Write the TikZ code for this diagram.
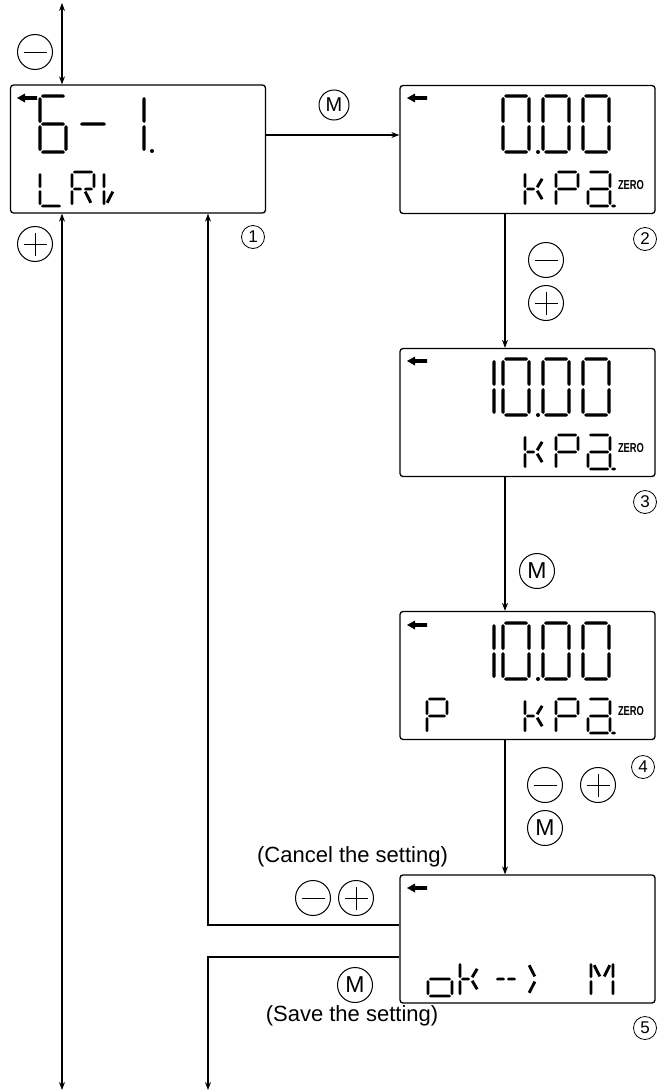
\documentclass[tikz,border=0pt]{standalone}
\usepackage{fontspec}
\setmainfont{Liberation Sans}
\usetikzlibrary{arrows.meta}
\def\lcdT{1.4}\def\lcdG{1}\def\lcdW{26}\def\lcdH{56}
\newcommand\lcdh[3]{\fill ({#1},{#3}) -- ({#1+\lcdT},{#3-\lcdT}) -- ({#2-\lcdT},{#3-\lcdT}) -- ({#2},{#3}) -- ({#2-\lcdT},{#3+\lcdT}) -- ({#1+\lcdT},{#3+\lcdT}) -- cycle;}
\newcommand\lcdv[3]{\fill ({#1},{#2}) -- ({#1+\lcdT},{#2+\lcdT}) -- ({#1+\lcdT},{#3-\lcdT}) -- ({#1},{#3}) -- ({#1-\lcdT},{#3-\lcdT}) -- ({#1-\lcdT},{#2+\lcdT}) -- cycle;}
\newcommand\lcdd[4]{\draw[line width={2*\lcdT*1pt}] ({#1},{#2}) -- ({#3},{#4});}
\def\lcdsega{\lcdh{\lcdG}{\lcdW-\lcdG}{0}}
\def\lcdsegb{\lcdv{\lcdW}{\lcdG}{\lcdH/2-\lcdG}}
\def\lcdsegc{\lcdv{\lcdW}{\lcdH/2+\lcdG}{\lcdH-\lcdG}}
\def\lcdsegd{\lcdh{\lcdG}{\lcdW-\lcdG}{\lcdH}}
\def\lcdsege{\lcdv{0}{\lcdH/2+\lcdG}{\lcdH-\lcdG}}
\def\lcdsegf{\lcdv{0}{\lcdG}{\lcdH/2-\lcdG}}
\def\lcdsegg{\lcdh{\lcdG}{\lcdW-\lcdG}{\lcdH/2}}
\def\lcdsegp{\lcdh{\lcdG}{\lcdW/2-\lcdG}{\lcdH/2}}
\def\lcdsegq{\lcdh{\lcdW/2+\lcdG}{\lcdW-\lcdG}{\lcdH/2}}
\def\lcdsegh{\lcdd{2.2*\lcdT}{2.2*\lcdT}{\lcdW/2-1.5*\lcdT}{\lcdH/2-1.8*\lcdT}}
\def\lcdsegj{\lcdd{\lcdW-2.2*\lcdT}{2.2*\lcdT}{\lcdW/2+1.5*\lcdT}{\lcdH/2-1.8*\lcdT}}
\def\lcdsegk{\lcdd{2.2*\lcdT}{\lcdH-2.2*\lcdT}{\lcdW/2-1.5*\lcdT}{\lcdH/2+1.8*\lcdT}}
\def\lcdsegm{\lcdd{\lcdW-2.2*\lcdT}{\lcdH-2.2*\lcdT}{\lcdW/2+1.5*\lcdT}{\lcdH/2+1.8*\lcdT}}
\def\lcdsegx{\lcdd{\lcdW/2+0.8*\lcdT}{\lcdH/2-1.2*\lcdT}{0.78*\lcdW}{0.2*\lcdH}}
\def\lcdsegy{\lcdd{\lcdW/2+0.8*\lcdT}{\lcdH/2+1.2*\lcdT}{0.78*\lcdW}{0.8*\lcdH}}
\def\lcdsegt{\lcdh{\lcdW+\lcdG}{\lcdW+6}{\lcdH}}
\newcommand\lcdchar[6][1.65]{\begin{scope}[shift={(#2,#3)}]\def\lcdT{#1}\def\lcdW{#4}\def\lcdH{#5}\foreach \s in {#6}{\csname lcdseg\s\endcsname}\end{scope}}
\newcommand\lcdarrow[2]{\fill ({#1+7},{#2+13}) -- ({#1+15},{#2+8.5}) -- ({#1+15},{#2+11.2}) -- ({#1+27},{#2+11.2}) -- ({#1+27},{#2+14.8}) -- ({#1+15},{#2+14.8}) -- ({#1+15},{#2+17.5}) -- cycle;}
\newcommand\bigzero[2]{\lcdchar{#1}{#2}{26}{56}{a,b,c,d,e,f}}
\newcommand\kpa[1]{%
  \lcdchar[1.45]{525}{#1}{22}{34}{f,e,p,x,y}%
  \lcdchar[1.45]{556}{#1}{22}{34}{a,b,f,e,g}%
  \lcdchar[1.45]{588}{#1}{22}{34}{a,b,g,e,d,c,t}}
\newcommand\minusbtn[3]{\node[btn] (#1) at (#2,#3) {};
  \draw[btnline] ([xshift=-11.5pt]#1.center) -- ([xshift=11.5pt]#1.center);}
\newcommand\plusbtn[3]{\node[btn] (#1) at (#2,#3) {};
  \draw[btnline] ([xshift=-11.5pt]#1.center) -- ([xshift=11.5pt]#1.center);
  \draw[btnline] ([yshift=-11.5pt]#1.center) -- ([yshift=11.5pt]#1.center);}
\begin{document}
\begin{tikzpicture}[x=1pt,y=-1pt,
  lcdbox/.style={draw, line width=1.3pt, rounded corners=3pt, minimum width=255pt, minimum height=128pt, inner sep=0pt},
  conn/.style={line width=1.1pt},
  arr/.style={conn, -{Stealth[length=8pt,width=6pt]}},
  darr/.style={conn, {Stealth[length=8pt,width=6pt]}-{Stealth[length=8pt,width=6pt]}},
  btn/.style={circle, draw, line width=1pt, minimum size=35pt, inner sep=0pt},
  btnline/.style={line width=1pt},
  mbtn/.style={btn, font=\fontsize{23}{23}\selectfont},
  num/.style={circle, draw, line width=0.8pt, minimum size=23pt, inner sep=0pt, font=\fontsize{17}{17}\selectfont},
  zero/.style={font=\bfseries\fontsize{13}{13}\selectfont, xscale=0.72, inner sep=0pt},
  note/.style={font=\fontsize{22}{22}\selectfont, inner sep=0pt}]
\useasboundingbox (0,0) rectangle (659,1092);
% displays
\node[lcdbox] (d1) at (138,149) {};
\node[lcdbox] (d2) at (527.5,149.5) {};
\node[lcdbox] (d3) at (527.5,412.5) {};
\node[lcdbox] (d4) at (527.5,675.5) {};
\node[lcdbox] (d5) at (527.5,939) {};
% display 1
\lcdarrow{10}{85}
\lcdchar{40}{96}{26}{56}{a,f,g,e,d,c}
\lcdchar{79}{96}{28}{56}{g}
\lcdchar{118}{96}{26}{56}{b,c}
\fill (152,151) circle (2);
\lcdchar[1.45]{40}{172}{22}{34}{f,e,d}
\lcdchar[1.45]{72}{172}{22}{34}{a,b,f,e,p,q,m}
\lcdchar[1.45]{104}{172}{22}{34}{f,e,k}
% display 2
\lcdarrow{400}{85}
\bigzero{503}{96}\bigzero{543}{96}\bigzero{583}{96}
\fill (538,152) circle (2);
\kpa{172}
\node[zero] (z2) at (631,185) {ZERO};
% display 3
\lcdarrow{400}{348}
\lcdchar{468}{359}{26}{56}{b,c}
\bigzero{503}{359}\bigzero{543}{359}\bigzero{583}{359}
\fill (538,415) circle (2);
\kpa{435}
\node[zero] (z3) at (631,448) {ZERO};
% display 4
\lcdarrow{400}{612}
\lcdchar{468}{623}{26}{56}{b,c}
\bigzero{503}{623}\bigzero{543}{623}\bigzero{583}{623}
\fill (538,679) circle (2);
\lcdchar[1.45]{427}{699}{20}{34}{a,b,f,e,g}
\kpa{699}
\node[zero] (z4) at (631,711) {ZERO};
% display 5
\lcdarrow{400}{875}
\lcdchar[1.45]{428}{962}{24}{34}{g,c,d,e}
\lcdchar[1.45]{460}{962}{22}{34}{f,e,p,x,y}
\lcdchar[1.45]{495}{962}{22}{34}{p,q}
\lcdchar[1.45]{526}{962}{22}{34}{h,k}
\lcdchar[1.45]{591}{962}{22}{34}{f,e,b,c,h,j}
% helper coordinates
\coordinate (topend) at (62,3);
\coordinate (botL) at (62,1090);
\coordinate (botS) at (208,1090);
\coordinate (yM) at (0,135);
\coordinate (x505) at (505,0);
\coordinate (yC) at (0,925);
\coordinate (yS) at (0,957);
\coordinate (xC) at (208,0);
% connectors
\draw[darr] (topend) -- (topend |- d1.north);
\draw[darr] (d1.south -| topend) -- (botL);
\draw[arr] (d1.east |- yM) -- (d2.west |- yM);
\draw[arr] (d2.south -| x505) -- (d3.north -| x505);
\draw[arr] (d3.south -| x505) -- (d4.north -| x505);
\draw[arr] (d4.south -| x505) -- (d5.north -| x505);
\draw[arr] (d5.west |- yC) -| (d1.south -| xC);
\draw[arr] (d5.west |- yS) -| (botS);
% buttons
\minusbtn{bA}{35}{52}
\plusbtn{bB}{35}{244}
\node[mbtn, minimum size=30pt, font=\fontsize{20}{20}\selectfont] (bM1) at (334,105) {M};
\minusbtn{bC}{546}{260}
\plusbtn{bD}{546}{303}
\node[mbtn] (bM2) at (537,571) {M};
\minusbtn{bE}{545}{785}
\plusbtn{bF}{598}{785}
\node[mbtn] (bM3) at (545,828) {M};
\minusbtn{bG}{313}{898}
\plusbtn{bH}{356}{898}
\node[mbtn] (bM4) at (355,985) {M};
% step numbers
\node[num] (n1) at (253,237) {1};
\node[num] (n2) at (645,239) {2};
\node[num] (n3) at (645,502) {3};
\node[num] (n4) at (643,767) {4};
\node[num] (n5) at (645,1028) {5};
% notes
\node[note] (cancel) at (352.5,857) {(Cancel the setting)};
\node[note] (save) at (352,1016) {(Save the setting)};
\end{tikzpicture}
\end{document}
